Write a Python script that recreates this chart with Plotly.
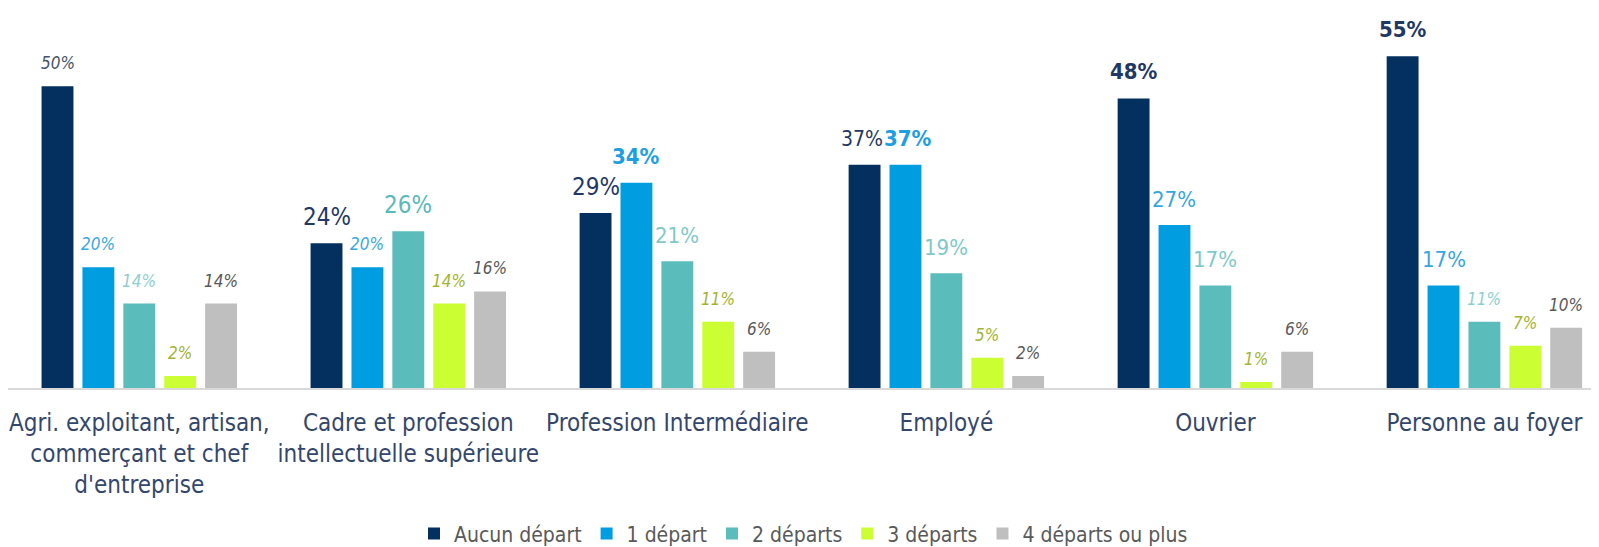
import plotly.graph_objects as go

categories = [
    "Agri. exploitant, artisan,<br>commerçant et chef<br>d'entreprise",
    "Cadre et profession<br>intellectuelle supérieure",
    "Profession Intermédiaire",
    "Employé",
    "Ouvrier",
    "Personne au foyer",
]
series_names = ["Aucun départ", "1 départ", "2 départs", "3 départs", "4 départs ou plus"]
aucun = [50, 24, 29, 37, 48, 55]
un = [20, 20, 34, 37, 27, 17]
deux = [14, 26, 21, 19, 17, 11]
trois = [2, 14, 11, 5, 1, 7]
quatre = [14, 16, 6, 2, 6, 10]
values = [aucun, un, deux, trois, quatre]

# styles (separate from data)
bar_colors = ["#03305f", "#009ee0", "#5bbcbc", "#ccff33", "#bfbfbf"]
label_kind = [
    ["s", "l", "l", "t", "b", "b"],
    ["s", "s", "b", "b", "m", "m"],
    ["s", "l", "m", "m", "m", "s"],
    ["s", "s", "s", "s", "s", "s"],
    ["s", "s", "s", "s", "s", "s"],
]
label_nudge = [
    [0, 0, 0, -3, 0, 0],
    [0, 0, 0, 3, 0, 0],
    [0, 0, 0, 0, 0, 0],
    [0, 0, 0, 0, 0, 0],
    [0, 0, 0, 0, 0, 0],
]
label_color_small = ["#44546a", "#3aa8e0", "#8dcfcf", "#a4b431", "#595959"]
label_color_big = ["#1f3864", "#1d9fe0", "#5ab9b9", "#a4b431", "#595959"]
label_color_mid = ["#1f3864", "#35a6e0", "#7fc9c9", "#a4b431", "#595959"]

FONT = "Liberation Sans Narrow, Arial Narrow, DejaVu Sans Condensed, sans-serif"
BARGAP = 0.24

fig = go.Figure()
for j, name in enumerate(series_names):
    fig.add_trace(go.Bar(
        x=categories, y=values[j], name=name,
        marker=dict(color=bar_colors[j], line=dict(width=0)),
        hoverinfo="skip",
    ))

n = len(series_names)
slot = (1 - BARGAP) / n
annotations = []
for j in range(n):
    for i, v in enumerate(values[j]):
        kind = label_kind[j][i]
        txt = f"{v}%"
        if kind == "s":
            txt = f"<i>{txt}</i>"
            size = 17
            col = label_color_small[j]
            ysh = 12
        elif kind == "b":
            txt = f"<b>{txt}</b>"
            size = 22
            col = label_color_big[j]
            ysh = 13
        elif kind == "l":
            size = 24
            col = label_color_big[j]
            ysh = 11
        elif kind == "t":
            size = 21
            col = label_color_mid[j]
            ysh = 13
        else:
            size = 22
            col = label_color_mid[j]
            ysh = 12
        annotations.append(dict(
            x=i + (j - (n - 1) / 2) * slot, y=v, xref="x", yref="y",
            text=txt, showarrow=False, yanchor="bottom", xanchor="center",
            xshift=label_nudge[j][i], yshift=ysh, borderpad=0,
            font=dict(family=FONT, size=size, color=col),
        ))

# the page body has an 8px margin, so the figure is sized/offset to compensate
fig.update_layout(
    width=1591, height=539,
    margin=dict(l=0, r=0, t=18, b=159, autoexpand=False),
    paper_bgcolor="white", plot_bgcolor="white",
    barmode="group", bargap=BARGAP, bargroupgap=0.22,
    font=dict(family=FONT, color="#3b4a6b"),
    showlegend=True,
    legend=dict(orientation="h", x=0.5, xanchor="center", y=-0.403, yanchor="middle",
                font=dict(family=FONT, size=21, color="#595959"),
                itemwidth=30, traceorder="normal"),
    annotations=annotations,
)
fig.update_xaxes(
    type="category", range=[-0.488, 5.426], showgrid=False, showline=True,
    linecolor="#d9d9d9", linewidth=2, ticks="", ticklabelstandoff=12,
    tickfont=dict(family=FONT, size=24, color="#34476b"),
)
fig.update_yaxes(range=[0, 60], visible=False, showgrid=False, zeroline=False)

fig.write_html("out.html")
